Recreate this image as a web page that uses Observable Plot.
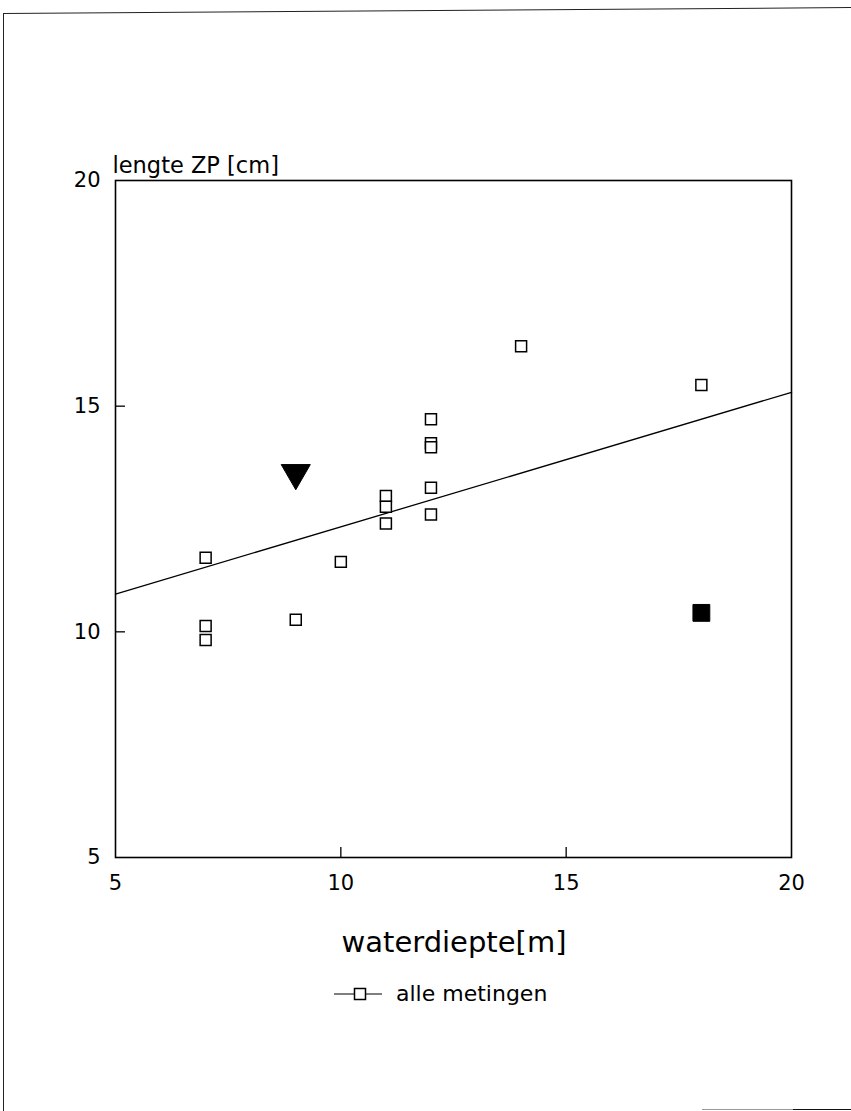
<!DOCTYPE html>
<html>
<head>
<meta charset="utf-8">
<script src="https://cdn.jsdelivr.net/npm/d3@7"></script>
<script src="https://cdn.jsdelivr.net/npm/@observablehq/plot@0.6"></script>
<style>
  html, body { margin: 0; padding: 0; background: #fff; }
  #page { position: relative; width: 851px; height: 1111px; overflow: hidden; font-family: "DejaVu Sans", sans-serif; color: #000; }
  #chart { position: absolute; left: 0; top: 0; }
  .border-left { position: absolute; left: 3px; top: 13px; width: 0; height: 1100px; border-left: 1.5px solid #222; }
  .border-top { position: absolute; left: 3px; top: 13px; width: 848px; height: 0; border-top: 1.5px solid #222; transform: rotate(-0.4deg); transform-origin: 0 0; }
  .border-bottom-a { position: absolute; left: 702px; top: 1109px; width: 91px; height: 0; border-top: 1.5px solid #999; }
  .border-bottom-b { position: absolute; left: 793px; top: 1109px; width: 58px; height: 0; border-top: 1.5px solid #111; }
  #xtitle { position: absolute; left: 0; width: 908px; top: 925px; text-align: center; font-size: 29px; line-height: normal; white-space: nowrap; }
  #legend-key { position: absolute; left: 334px; top: 986px; }
  #legend-text { position: absolute; left: 396px; top: 981px; font-size: 22px; line-height: normal; white-space: nowrap; }
</style>
</head>
<body>
<div id="page">
  <div class="border-left"></div>
  <div class="border-top"></div>
  <div class="border-bottom-a"></div>
  <div class="border-bottom-b"></div>
  <div id="chart"></div>
  <div id="xtitle">waterdiepte[m]</div>
  <svg id="legend-key" width="50" height="16" viewBox="0 0 50 16"><line x1="0" y1="8" x2="48" y2="8" stroke="#000" stroke-width="1.2"/><rect x="20.5" y="2.5" width="11" height="11" fill="#fff" stroke="#000" stroke-width="1.5"/></svg>
  <div id="legend-text">alle metingen</div>
</div>
<script>
// Data
const depth = [7, 7, 7, 9, 10, 11, 11, 11, 12, 12, 12, 12, 12, 14, 18];          // waterdiepte [m]
const lengthZP = [11.64, 10.13, 9.82, 10.27, 11.55, 13.01, 12.77, 12.4, 14.71, 14.18, 14.09, 13.19, 12.6, 16.33, 15.47]; // lengte ZP [cm]
const filledDepth = [18];
const filledLength = [10.42];
const triangleDepth = [9];
const triangleLength = [13.52];
const xTicks = [5, 10, 15, 20];
const yTicks = [5, 10, 15, 20];
const innerTicks = [10, 15];
const xDomain = [5, 20];
const yDomain = [5, 20];
const yLabel = "lengte ZP [cm]";

const open = depth.map((d, i) => ({x: d, y: lengthZP[i]}));
const filled = filledDepth.map((d, i) => ({x: d, y: filledLength[i]}));
const tri = triangleDepth.map((d, i) => ({x: d, y: triangleLength[i]}));

// least-squares regression over all measurements
const all = open.concat(filled, tri);
const mx = d3.mean(all, d => d.x), my = d3.mean(all, d => d.y);
const slope = d3.sum(all, d => (d.x - mx) * (d.y - my)) / d3.sum(all, d => (d.x - mx) ** 2);
const intercept = my - slope * mx;
const fit = xDomain.map(x => ({x, y: intercept + slope * x}));

const W = 851, H = 910, mL = 115, mR = 60, mT = 180, mB = 53;
const frameW = W - mL - mR, frameH = H - mT - mB;

const chart = Plot.plot({
  width: W,
  height: H,
  marginLeft: mL,
  marginRight: mR,
  marginTop: mT,
  marginBottom: mB,
  style: {fontFamily: "'DejaVu Sans', sans-serif", color: "#000", background: "transparent", overflow: "visible"},
  x: {domain: xDomain},
  y: {domain: yDomain},
  marks: [
    Plot.axisX({ticks: xTicks, tickSize: 0, tickPadding: 18, fontSize: 21, label: null, tickFormat: d => String(d)}),
    Plot.axisY({ticks: yTicks, tickSize: 0, tickPadding: 15, fontSize: 21, label: null, tickFormat: d => String(d)}),
    Plot.tickX(innerTicks, {x: d => d, insetTop: frameH - 10, stroke: "#000", strokeWidth: 1.3}),
    Plot.tickY(innerTicks, {y: d => d, insetRight: frameW - 10, stroke: "#000", strokeWidth: 1.3}),
    Plot.frame({stroke: "#000", strokeWidth: 1.6}),
    Plot.line(fit, {x: "x", y: "y", stroke: "#000", strokeWidth: 1.3}),
    Plot.dot(open, {x: "x", y: "y", symbol: "square", r: 6.2, fill: "#fff", stroke: "#000", strokeWidth: 1.5}),
    Plot.dot(filled, {x: "x", y: "y", symbol: "square", r: 9.5, fill: "#000", stroke: "#000", strokeWidth: 1}),
    Plot.dot(tri, {x: "x", y: "y", symbol: "triangle", r: 10.8, rotate: 180, fill: "#000", stroke: "#000", strokeWidth: 1}),
    Plot.text([yLabel], {frameAnchor: "top-left", text: d => d, dx: -3, dy: -23, fontSize: 22.5, textAnchor: "start"})
  ]
});
document.getElementById("chart").appendChild(chart);
</script>
</body>
</html>
